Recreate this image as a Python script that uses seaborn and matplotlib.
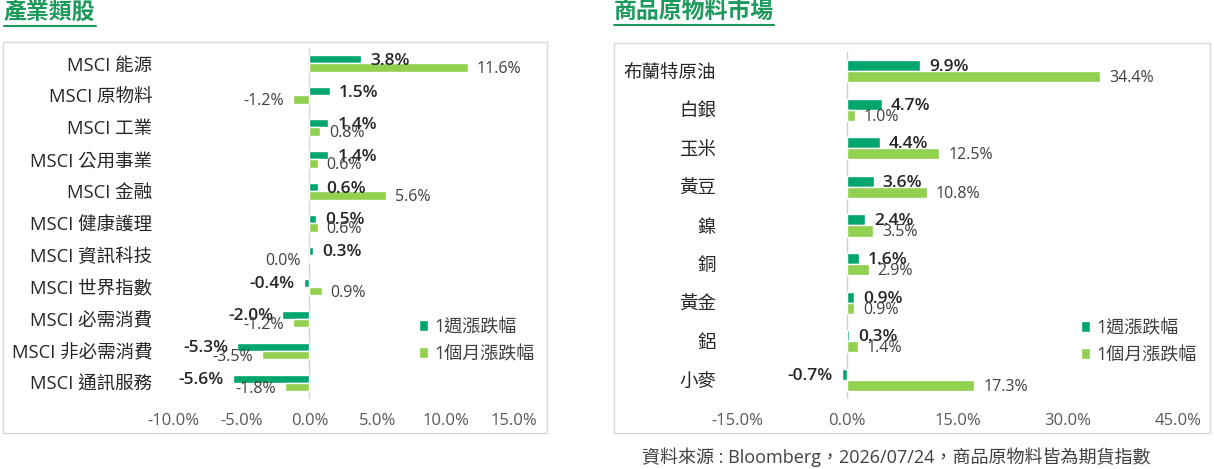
import pandas as pd
import seaborn as sns
import matplotlib.pyplot as plt
from matplotlib.patches import Rectangle
from matplotlib.lines import Line2D

# data (percent)
sector_names = ["MSCI 能源", "MSCI 原物料", "MSCI 工業", "MSCI 公用事業", "MSCI 金融",
                "MSCI 健康護理", "MSCI 資訊科技", "MSCI 世界指數", "MSCI 必需消費",
                "MSCI 非必需消費", "MSCI 通訊服務"]
sector_week = [3.8, 1.5, 1.4, 1.4, 0.6, 0.5, 0.3, -0.4, -2.0, -5.3, -5.6]
sector_month = [11.6, -1.2, 0.8, 0.6, 5.6, 0.6, 0.0, 0.9, -1.2, -3.5, -1.8]

commodity_names = ["布蘭特原油", "白銀", "玉米", "黃豆", "鎳", "銅", "黃金", "鋁", "小麥"]
commodity_week = [9.9, 4.7, 4.4, 3.6, 2.4, 1.6, 0.9, 0.3, -0.7]
commodity_month = [34.4, 1.0, 12.5, 10.8, 3.5, 2.9, 0.9, 1.4, 17.3]

series_names = ["1週漲跌幅", "1個月漲跌幅"]
sector_ticks = [-10, -5, 0, 5, 10, 15]
commodity_ticks = [-15, 0, 15, 30, 45]

DARK = "#00A66B"
LIGHT = "#92D050"
TITLE = "#1B9A5C"
BORDER = "#D9D9D9"

W, H = 1214, 469

sns.set_style("white")
plt.rcParams["font.family"] = ["Open Sans", "Noto Sans CJK TC", "DejaVu Sans"]


def to_long(names, week, month):
    return pd.DataFrame({
        "name": names * 2,
        "value": week + month,
        "series": [series_names[0]] * len(names) + [series_names[1]] * len(names),
    })


def fx(px):
    return px / W


def fy(px):
    return 1 - px / H


def draw_panel(ax, df, names, ticks, width, legend_xy):
    sns.barplot(data=df, x="value", y="name", hue="series", order=names,
                hue_order=series_names, orient="h", palette=[DARK, LIGHT],
                saturation=1, width=width, errorbar=None, ax=ax)
    # value labels: week in semibold, month in regular
    for container, bold in zip(ax.containers, [True, False]):
        for rect in container:
            end = rect.get_x() + rect.get_width()
            yc = rect.get_y() + rect.get_height() / 2
            pos = end > 0
            ax.annotate(f"{end:.1f}%", xy=(end, yc), xytext=(6.5 if pos else -6.5, -1),
                        textcoords="offset points", ha="left" if pos else "right",
                        va="center", fontsize=12.5 if bold else 11.5,
                        fontweight="semibold" if bold else "normal",
                        color="#262626" if bold else "#404040")
    ax.axvline(0, color="#D0D0D0", lw=1, zorder=0)
    ax.set_xlim(ticks[0], ticks[-1])
    ax.set_xticks(ticks)
    ax.set_xticklabels([f"{t:.1f}%" for t in ticks])
    ax.set_ylim(len(names) - 0.5, -0.5)
    ax.set_xlabel("")
    ax.set_ylabel("")
    sns.despine(ax=ax, left=True, bottom=True)
    ax.tick_params(axis="x", length=0, pad=10, labelsize=12, labelcolor="#595959")
    ax.tick_params(axis="y", length=0, pad=15, labelsize=13.3, labelcolor="#262626")
    ax.legend(loc="upper left", bbox_to_anchor=legend_xy, bbox_transform=fig.transFigure,
              frameon=False, prop={"size": 13}, handlelength=0.5, handleheight=0.5,
              handletextpad=0.35, labelspacing=0.5, borderpad=0, borderaxespad=0,
              labelcolor="#404040")


fig = plt.figure(figsize=(W / 100, H / 100), dpi=100)

ax1 = fig.add_axes([fx(173), fy(399), fx(514 - 173), (399 - 47.5) / H])
ax2 = fig.add_axes([fx(737), fy(399.3), fx(1178 - 737), (399.3 - 51.7) / H])

draw_panel(ax1, to_long(sector_names, sector_week, sector_month), sector_names,
           sector_ticks, 0.52, (fx(419), fy(318)))
draw_panel(ax2, to_long(commodity_names, commodity_week, commodity_month), commodity_names,
           commodity_ticks, 0.57, (fx(1081), fy(319)))

# panel borders
fig.add_artist(Rectangle((fx(3), fy(433)), fx(547 - 3), (433 - 42) / H,
                         transform=fig.transFigure, fill=False, ec=BORDER, lw=1))
fig.add_artist(Rectangle((fx(614), fy(433)), fx(1210 - 614), (433 - 43) / H,
                         transform=fig.transFigure, fill=False, ec=BORDER, lw=1))

# titles with underline
titles = []
titles.append(fig.text(fx(4), fy(13), "產業類股", fontsize=16.5, fontweight="bold",
                       color=TITLE, va="center", ha="left"))
titles.append(fig.text(fx(614), fy(12), "商品原物料市場", fontsize=16.5, fontweight="bold",
                       color=TITLE, va="center", ha="left"))
fig.canvas.draw()
for t, uy in zip(titles, [26.5, 25]):
    bb = t.get_window_extent()
    fig.add_artist(Line2D([bb.x0 / W, bb.x1 / W], [fy(uy), fy(uy)],
                          transform=fig.transFigure, color=TITLE, lw=1.5))

fig.text(fx(896), fy(457), "資料來源 : Bloomberg，2026/07/24，商品原物料皆為期貨指數",
         fontsize=13, color="#404040", ha="center", va="center")

fig.savefig("out.png", dpi=100)
